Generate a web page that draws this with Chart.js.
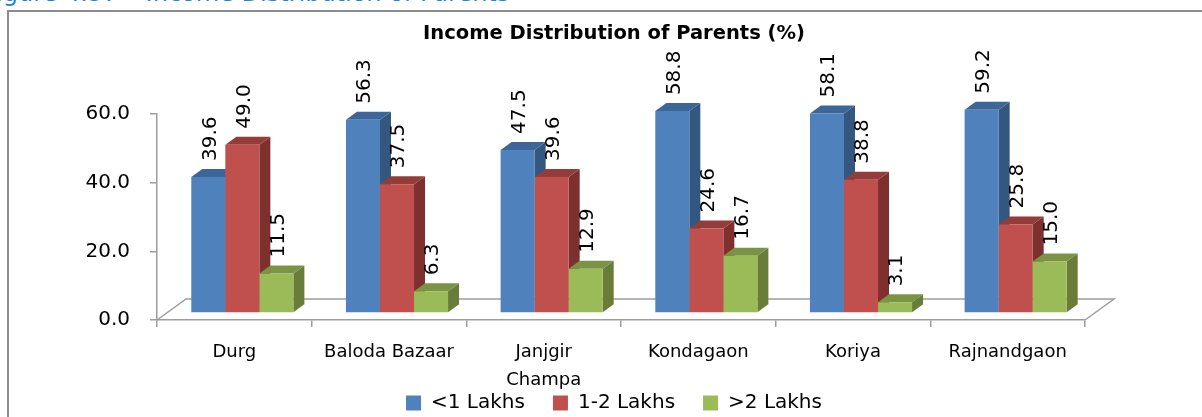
<!DOCTYPE html>
<html>
<head>
<meta charset="utf-8">
<script src="https://cdn.jsdelivr.net/npm/chart.js@4.4.1/dist/chart.umd.min.js"></script>
<style>
  body { margin: 0; background: #fff; overflow: hidden; width: 1202px; height: 417px; position: relative; }
  #caption { position: absolute; left: -16px; top: -19px; font: 24px/24px 'DejaVu Sans'; color: #1C86D1; white-space: nowrap; }
  #frame { position: absolute; left: 7px; top: 10px; width: 1300px; height: 500px; border-left: 2px solid #8c8c8c; border-top: 2px solid #8c8c8c; }
  #box { position: absolute; left: 0; top: 0; width: 1228px; height: 423px; }
</style>
</head>
<body>
<div id="caption">Figure 4.37 – Income Distribution of Parents</div>
<div id="frame"></div>
<div id="box"><canvas id="incomeChart"></canvas></div>
<script>
// Datos de la gráfica
const categories = ['Durg', 'Baloda Bazaar', ['Janjgir', 'Champa'], 'Kondagaon', 'Koriya', 'Rajnandgaon'];
const seriesNames = ['<1 Lakhs', '1-2 Lakhs', '>2 Lakhs'];
const below1Lakh = [39.6, 56.3, 47.5, 58.8, 58.1, 59.2];
const from1to2Lakh = [49.0, 37.5, 39.6, 24.6, 38.8, 25.8];
const above2Lakh = [11.5, 6.3, 12.9, 16.7, 3.1, 15.0];
const yTicks = [0, 20, 40, 60];

// Colores: frente, lateral y tapa de cada barra
const frontColors = ['#4F81BD', '#C0504D', '#9BBB59'];
const sideColors = ['#34577F', '#7E302F', '#677D39'];
const topColors = ['#3D6698', '#943C3A', '#7A9444'];

const FONT = 'DejaVu Sans';
const AXIS_GREY = '#9d9d9d';
const SHIFT_X = 8, SHIFT_Y = -7;     // barras colocadas sobre el piso
const DEPTH_X = 11, DEPTH_Y = -8;    // profundidad de las barras
const FLOOR_X = 29, FLOOR_Y = -21;   // profundidad del piso

// Piso, caras laterales y etiquetas (efecto 3D)
const bars3d = {
    id: 'bars3d',
    beforeDatasetsDraw(chart) {
        const ctx = chart.ctx;
        const area = chart.chartArea;
        const zero = chart.scales.y.getPixelForValue(0);
        ctx.save();
        ctx.strokeStyle = AXIS_GREY;
        ctx.lineWidth = 1.5;
        ctx.beginPath();
        ctx.moveTo(area.left, zero);
        ctx.lineTo(area.left + FLOOR_X, zero + FLOOR_Y);
        ctx.lineTo(area.right + FLOOR_X, zero + FLOOR_Y);
        ctx.lineTo(area.right, zero);
        ctx.stroke();
        ctx.restore();

        ctx.save();
        ctx.translate(SHIFT_X, SHIFT_Y);
        chart.data.datasets.forEach((ds, i) => {
            chart.getDatasetMeta(i).data.forEach(bar => {
                const left = bar.x - bar.width / 2;
                const right = bar.x + bar.width / 2;
                ctx.fillStyle = sideColors[i];
                ctx.beginPath();
                ctx.moveTo(right, bar.y);
                ctx.lineTo(right + DEPTH_X, bar.y + DEPTH_Y);
                ctx.lineTo(right + DEPTH_X, bar.base + DEPTH_Y);
                ctx.lineTo(right, bar.base);
                ctx.closePath();
                ctx.fill();
                ctx.fillStyle = topColors[i];
                ctx.beginPath();
                ctx.moveTo(left, bar.y);
                ctx.lineTo(left + DEPTH_X, bar.y + DEPTH_Y);
                ctx.lineTo(right + DEPTH_X, bar.y + DEPTH_Y);
                ctx.lineTo(right, bar.y);
                ctx.closePath();
                ctx.fill();
            });
        });
        // la traslación sigue activa mientras Chart.js dibuja los frentes
    },
    afterDatasetsDraw(chart) {
        const ctx = chart.ctx;
        ctx.restore();
        ctx.save();
        ctx.fillStyle = '#000';
        ctx.font = '20px "' + FONT + '"';
        ctx.textAlign = 'left';
        ctx.textBaseline = 'middle';
        chart.data.datasets.forEach((ds, i) => {
            chart.getDatasetMeta(i).data.forEach((bar, j) => {
                ctx.save();
                ctx.translate(bar.x + SHIFT_X + 2, bar.y + SHIFT_Y - 16);
                ctx.rotate(-Math.PI / 2);
                ctx.fillText(ds.data[j].toFixed(1), 0, 0);
                ctx.restore();
            });
        });
        ctx.restore();
    }
};

const ctx = document.getElementById('incomeChart').getContext('2d');

const incomeChart = new Chart(ctx, {
    type: 'bar',
    data: {
        labels: categories,
        datasets: [below1Lakh, from1to2Lakh, above2Lakh].map((values, i) => ({
            label: seriesNames[i],
            data: values,
            backgroundColor: frontColors[i],
            borderWidth: 0,
            categoryPercentage: 0.66,
            barPercentage: 1.0,
            clip: false
        }))
    },
    options: {
        responsive: true,
        maintainAspectRatio: false,
        animation: false,
        layout: { padding: { top: 10, left: 0, right: 0, bottom: 0 } },
        plugins: {
            title: {
                display: true,
                text: 'Income Distribution of Parents (%)',
                color: '#000',
                font: { family: FONT, size: 19.5, weight: 'bold' },
                padding: { top: 12, bottom: 68.6 }
            },
            legend: {
                position: 'bottom',
                labels: {
                    color: '#000',
                    font: { family: FONT, size: 20 },
                    boxWidth: 15,
                    boxHeight: 15,
                    padding: 28
                }
            },
            tooltip: { enabled: false }
        },
        scales: {
            x: {
                grid: { drawOnChartArea: false, tickLength: 7, color: AXIS_GREY, lineWidth: 1.5, offset: true },
                border: { color: AXIS_GREY, width: 1.5 },
                ticks: { color: '#000', font: { family: FONT, size: 18, lineHeight: 1.55 }, padding: 11, maxRotation: 0 },
                afterFit: scale => {
                    scale.height = 45;
                    // "Champa" baja hasta la leyenda: no recortar las etiquetas
                    scale._computeLabelArea = () => undefined;
                }
            },
            y: {
                min: yTicks[0],
                max: yTicks[yTicks.length - 1],
                grid: { drawOnChartArea: false, tickLength: 7, color: AXIS_GREY, lineWidth: 1.5 },
                border: { color: AXIS_GREY, width: 1.5 },
                ticks: {
                    stepSize: yTicks[1] - yTicks[0],
                    color: '#000',
                    font: { family: FONT, size: 20 },
                    padding: 20,
                    callback: v => v.toFixed(1)
                },
                afterFit: scale => { scale.width = 157; }
            },
            // eje vacío para dejar el margen derecho
            right: {
                position: 'right',
                display: true,
                grid: { display: false },
                border: { display: false },
                ticks: { display: false },
                afterFit: scale => { scale.width = 143; }
            }
        }
    },
    plugins: [bars3d]
});
</script>
</body>
</html>
